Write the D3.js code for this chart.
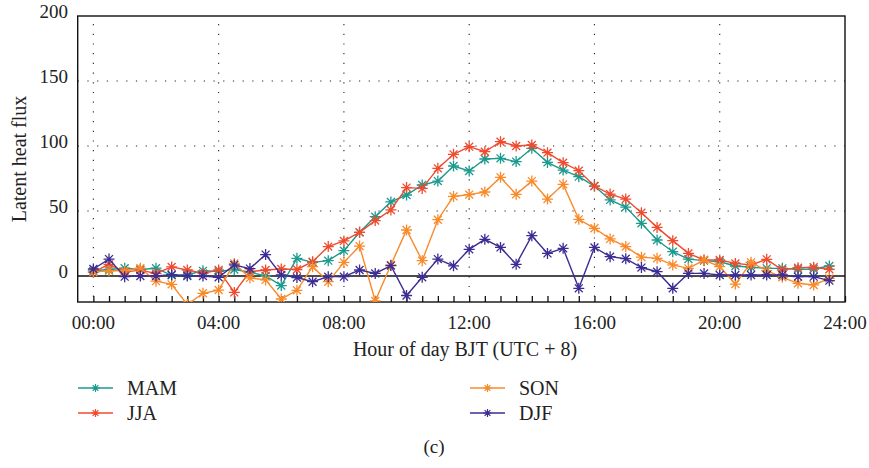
<!DOCTYPE html>
<html>
<head>
<meta charset="utf-8">
<script src="https://cdn.jsdelivr.net/npm/d3@7"></script>
<style>
  html, body { margin: 0; padding: 0; background: #fff; }
  svg { display: block; }
</style>
</head>
<body>
<svg id="chart" width="869" height="468" font-family="'Liberation Serif', 'Times New Roman', Times, 'DejaVu Serif', serif"></svg>
<script>
// Hours of the day (half-hourly)
const hours = d3.range(0, 24, 0.5);

const seriesNames = ["MAM", "JJA", "SON", "DJF"];
const seriesColors = ["#1b9a8e", "#f04b2e", "#f98a2a", "#3c2d93"];

const mam = [4, 5, 6, 5, 6, 0.5, 1, 4, 3.5, 5, 3, 0, -7.4, 13.6, 10.5, 11.8, 19.5, 33.6, 45.6, 57,
  62.3, 70, 73, 84.6, 80.8, 90, 90.5, 88, 98.2, 87.4, 81.5, 76.4, 69.2, 58.5, 53, 40.5, 27.7, 18.7,
  13, 11.8, 11, 7.7, 6.7, 5.9, 5.9, 5.1, 5.4, 7.7];
const jja = [3, 9, 3, 4.5, 2, 7, 4.6, 2, 4.6, -12.6, 3.3, 4.6, 5.4, 5, 11, 22.6, 27, 33.6, 42.6, 50.8,
  68, 67.4, 82.8, 93.6, 99.5, 95.6, 103.3, 100, 100.8, 94.9, 87.2, 81, 69.2, 63, 59.2, 48.7, 37.4, 27.2,
  17.4, 12.3, 12.3, 9.7, 8.5, 12.8, 4.6, 6.4, 6.7, 5.1];
const son = [3, 4, 4, 6, -4, -6.4, -22, -13.3, -10.8, 9.7, -1.5, -3, -17.7, -11, 7.2, -4.4, 10.5, 23, -19.2, 8.5,
  35.4, 11.8, 43.3, 61.2, 62.6, 64.6, 75.9, 62.8, 73, 59.2, 70.5, 43.6, 36.7, 28.5, 22.6, 14.5, 13.6, 8.5,
  5.9, 12.3, 7.2, -6.2, 10.5, 4.1, -1, -5.6, -6.9, -1.8];
const djf = [5.4, 13, -0.5, 0, 0, 1, 0, 0, -1, 8.5, 5.7, 16.5, 0.8, -1.2, -4.4, -0.5, -0.5, 4.6, 2, 8,
  -15, -1, 13, 7.8, 20.5, 28.2, 22, 9, 31, 17.4, 21.3, -9.5, 22, 14.9, 13.3, 6.5, 3.3, -9.5,
  2, 2, 0.8, 0.8, 0.8, 0.8, 0.8, -0.5, -0.5, -3.6];

const seriesValues = [mam, jja, son, djf];

const xTickValues = [0, 4, 8, 12, 16, 20, 24];
const xTickLabels = ["00:00", "04:00", "08:00", "12:00", "16:00", "20:00", "24:00"];
const yTickValues = [0, 50, 100, 150, 200];

const xTitle = "Hour of day BJT (UTC + 8)";
const yTitle = "Latent heat flux";
const caption = "(c)";

// Layout
const svg = d3.select("#chart");
const pL = 77.7, pR = 845, pT = 16, pB = 302;
const txtColor = "#222";

const x = d3.scaleLinear().domain([-0.5, 24]).range([pL, pR]);
const y = d3.scaleLinear().domain([-20, 200]).range([pB, pT]);

// Clip
svg.append("defs").append("clipPath").attr("id", "plotclip")
  .append("rect").attr("x", pL).attr("y", pT).attr("width", pR - pL).attr("height", pB - pT);

// Dotted grid
const grid = svg.append("g");
grid.selectAll("line.vg").data(xTickValues.filter(d => d < 24)).enter().append("line")
  .attr("x1", d => x(d)).attr("x2", d => x(d)).attr("y1", pT + 8).attr("y2", pB)
  .attr("stroke", "#222").attr("stroke-width", 1.1).attr("stroke-dasharray", "1.2,8.5");
grid.selectAll("line.hg").data([50, 100, 150]).enter().append("line")
  .attr("x1", pL).attr("x2", pR).attr("y1", d => y(d)).attr("y2", d => y(d))
  .attr("stroke", "#222").attr("stroke-width", 1.1).attr("stroke-dasharray", "1.2,8.5");

// Zero line
svg.append("line").attr("x1", pL).attr("x2", pR).attr("y1", y(0)).attr("y2", y(0))
  .attr("stroke", "#111").attr("stroke-width", 1.3);

// Bottom axis ticks (inward, every half-hour)
const xAxis = d3.axisBottom(x).tickValues(d3.range(0, 24.01, 0.5)).tickSize(-6).tickFormat("");
const gx = svg.append("g").attr("transform", `translate(0,${pB})`).call(xAxis);
gx.select(".domain").remove();
gx.selectAll(".tick line").attr("stroke", "#111").attr("stroke-width", 1.3);

// X tick labels
svg.append("g").selectAll("text").data(xTickValues).enter().append("text")
  .attr("x", d => x(d)).attr("y", 328.5).attr("text-anchor", "middle").attr("fill", txtColor)
  .attr("font-size", 19).text((d, i) => xTickLabels[i]);

// Y tick labels
svg.append("g").selectAll("text").data(yTickValues).enter().append("text")
  .attr("x", 68).attr("y", d => y(d) + 2).attr("text-anchor", "end").attr("fill", txtColor)
  .attr("font-size", 19).text(d => d);

// Frame
svg.append("rect").attr("x", pL).attr("y", pT).attr("width", pR - pL).attr("height", pB - pT)
  .attr("fill", "none").attr("stroke", "#111").attr("stroke-width", 1.4);

// Asterisk marker path
function star(cx, cy, r) {
  const d = r * 0.72;
  return `M${cx - r},${cy}L${cx + r},${cy}M${cx},${cy - r}L${cx},${cy + r}` +
    `M${cx - d},${cy - d}L${cx + d},${cy + d}M${cx - d},${cy + d}L${cx + d},${cy - d}`;
}

const plot = svg.append("g").attr("clip-path", "url(#plotclip)");
const line = d3.line().x((d, i) => x(hours[i])).y(d => y(d));

seriesValues.forEach((vals, si) => {
  const c = seriesColors[si];
  const g = plot.append("g");
  g.append("path").datum(vals).attr("d", line).attr("fill", "none")
    .attr("stroke", c).attr("stroke-width", 1.4);
  g.selectAll("path.m").data(vals).enter().append("path").attr("class", "m")
    .attr("d", (d, i) => star(x(hours[i]), y(d), 5.5))
    .attr("stroke", c).attr("stroke-width", 1.3).attr("fill", "none");
});

// Axis titles
svg.append("text").attr("x", 465).attr("y", 356).attr("text-anchor", "middle").attr("fill", txtColor)
  .attr("font-size", 20).text(xTitle);
svg.append("text").attr("transform", `translate(26,159) rotate(-90)`).attr("text-anchor", "middle")
  .attr("fill", txtColor).attr("font-size", 20).text(yTitle);

// Legend
const legendPos = [[78, 388], [78, 413], [470, 388], [470, 413]];
seriesNames.forEach((name, i) => {
  const [lx, ly] = legendPos[i];
  const c = seriesColors[i];
  svg.append("line").attr("x1", lx).attr("x2", lx + 35).attr("y1", ly).attr("y2", ly)
    .attr("stroke", c).attr("stroke-width", 1.4);
  svg.append("path").attr("d", star(lx + 17.5, ly, 4)).attr("stroke", c)
    .attr("stroke-width", 1.2).attr("fill", "none");
  svg.append("text").attr("x", lx + 49).attr("y", ly + 7).attr("fill", txtColor)
    .attr("font-size", 20).text(name);
});

// Caption
svg.append("text").attr("x", 434).attr("y", 453).attr("text-anchor", "middle").attr("fill", txtColor)
  .attr("font-size", 19).text(caption);
</script>
</body>
</html>
